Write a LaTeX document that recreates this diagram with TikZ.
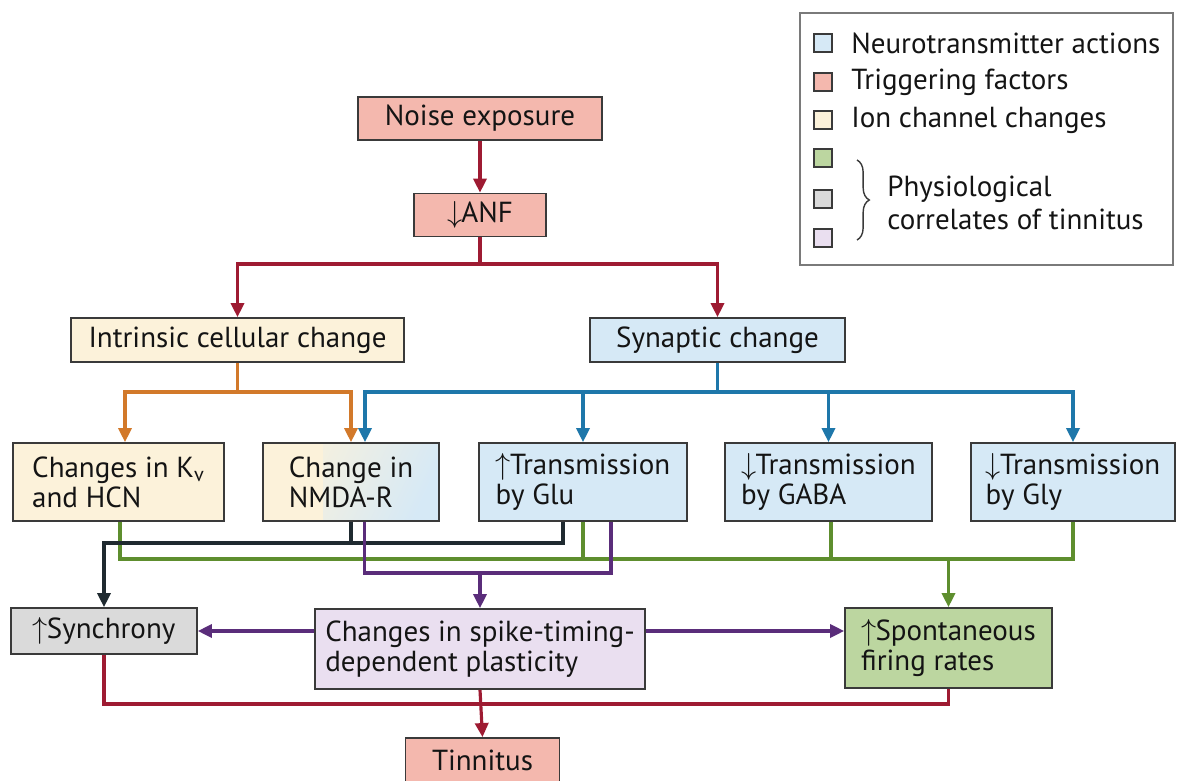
\documentclass[tikz,border=0pt]{standalone}
\usepackage{fontspec}
\setmainfont{PT Sans}
\usetikzlibrary{arrows.meta,decorations.pathreplacing}
\definecolor{bluefill}{HTML}{D6E9F6}
\definecolor{pinkfill}{HTML}{F4B8AE}
\definecolor{beigefill}{HTML}{FCF2DA}
\definecolor{greenfill}{HTML}{BCD6A0}
\definecolor{greyfill}{HTML}{DADADA}
\definecolor{purplefill}{HTML}{EADFF0}
\definecolor{boxborder}{HTML}{3A3A3A}
\definecolor{legendborder}{HTML}{7A7A7A}
\definecolor{redline}{HTML}{9E1B32}
\definecolor{orangeline}{HTML}{D2792A}
\definecolor{blueline}{HTML}{1E77AA}
\definecolor{blackline}{HTML}{1F2A30}
\definecolor{greenline}{HTML}{5E8E2E}
\definecolor{purpleline}{HTML}{5A2D7A}
\newcommand{\fsz}{\fontsize{16.5pt}{17pt}\selectfont}
\newcommand{\upa}{$\uparrow$\kern-0.5pt}
\newcommand{\dna}{$\downarrow$\kern-0.5pt}
\begin{document}
\begin{tikzpicture}[x=0.02cm,y=-0.02cm,
  box/.style={draw=boxborder, line width=1pt, inner sep=0pt, font=\fsz, align=left, text=black!92},
  sz/.style 2 args={minimum width=#1, minimum height=#2},
  tip/.style={-{Triangle[width=7.5pt,length=8pt]}},
  conn/.style={line width=1.8pt},
  rl/.style={conn, draw=redline, color=redline},
  ol/.style={conn, draw=orangeline, color=orangeline},
  bl/.style={conn, draw=blueline, color=blueline},
  kl/.style={conn, draw=blackline, color=blackline},
  gl/.style={conn, draw=greenline, color=greenline},
  pl/.style={conn, draw=purpleline, color=purpleline},
  legsq/.style={draw=boxborder, line width=0.7pt, minimum size=0.36cm, inner sep=0pt},
  legtxt/.style={anchor=west, font=\fsz, inner sep=0pt, text=black!92, align=left}
]
\useasboundingbox (0,0) rectangle (1177,781);

% legend
\node[draw=legendborder, line width=1pt, minimum width=7.46cm, minimum height=5.04cm, inner sep=0pt] (legend) at (986.5,139) {};
\node[legsq, fill=bluefill] (sq1) at (823,43) {};
\node[legsq, fill=pinkfill] (sq2) at (823,82) {};
\node[legsq, fill=beigefill] (sq3) at (823,120) {};
\node[legsq, fill=greenfill] (sq4) at (823,158) {};
\node[legsq, fill=greyfill] (sq5) at (823,199) {};
\node[legsq, fill=purplefill] (sq6) at (823,238) {};
\node[legtxt] (lt1) at (851,43) {Neurotransmitter actions};
\node[legtxt] (lt2) at (851,82) {Triggering factors};
\node[legtxt] (lt3) at (851,120) {Ion channel changes};
\node[legtxt] (lt4) at (887,203) {Physiological\\[2pt]correlates of tinnitus};
\coordinate (brtop) at (857,160);
\coordinate (brbot) at (857,240);
\draw[line width=0.8pt, boxborder, decorate, decoration={brace, amplitude=7pt}] (brtop) -- (brbot);

% boxes
\node[box, fill=pinkfill, sz={4.88cm}{0.86cm}] (noise) at (480,118.5) {Noise exposure};
\node[box, fill=pinkfill, sz={2.64cm}{0.86cm}] (anf) at (480,215) {\dna ANF};
\node[box, fill=beigefill, sz={6.66cm}{0.88cm}] (intr) at (237.5,340) {Intrinsic cellular change};
\node[box, fill=bluefill, sz={5.10cm}{0.88cm}] (syn) at (717.5,340) {Synaptic change};

\node[box, fill=beigefill, sz={4.22cm}{1.56cm}] (kv) at (118.5,482) {Changes in K\textsubscript{v}\\and HCN};
\node[box, fill=beigefill, sz={3.52cm}{1.56cm},
  path picture={\shade[left color=beigefill, right color=bluefill, shading angle=65]
    ([xshift=1.2cm]path picture bounding box.south west) rectangle (path picture bounding box.north east);
    \fill[beigefill] (path picture bounding box.south west) rectangle ([xshift=1.2cm]path picture bounding box.north west);}
  ] (nmda) at (351,482) {Change in\\NMDA-R};
\node[box, fill=bluefill, sz={4.16cm}{1.56cm}] (glu) at (583,482) {\upa Transmission\\by Glu};
\node[box, fill=bluefill, sz={4.14cm}{1.56cm}] (gaba) at (828.5,482) {\dna Transmission\\by GABA};
\node[box, fill=bluefill, sz={4.08cm}{1.56cm}] (gly) at (1073,482) {\dna Transmission\\by Gly};

\node[box, fill=greyfill, sz={3.72cm}{0.92cm}] (sync) at (104,631) {\upa Synchrony};
\node[box, fill=purplefill, sz={6.60cm}{1.60cm}] (stdp) at (480,649) {Changes in spike-timing-\\dependent plasticity};
\node[box, fill=greenfill, sz={4.14cm}{1.60cm}] (spont) at (948.5,648) {\upa Spontaneous\\firing rates};
\node[box, fill=pinkfill, sz={3.08cm}{0.88cm}] (tinn) at (482.5,760) {Tinnitus};

% bar levels
\coordinate (rbar) at (0,264);
\coordinate (obar) at (0,392);
\coordinate (kbar) at (0,543);
\coordinate (gbar) at (0,559);
\coordinate (pbar) at (0,573);
\coordinate (rbot) at (0,704);

% red top
\draw[rl, tip] (noise.south) -- (anf.north);
\draw[rl, tip] (anf.south) -- (anf.south |- rbar) -| (intr.north);
\draw[rl, tip] (anf.south |- rbar) -| (syn.north);

% orange
\draw[ol, tip] (intr.south) -- (intr.south |- obar) -| ([xshift=0.13cm]kv.north);
\draw[ol, tip] (intr.south |- obar) -| (nmda.north);

% blue
\draw[bl, tip] (syn.south) -- (syn.south |- obar) -| ([xshift=0.28cm]nmda.north);
\draw[bl, tip] (syn.south |- obar) -| (glu.north);
\draw[bl, tip] (syn.south |- obar) -| (gaba.north);
\draw[bl, tip] (syn.south |- obar) -| (gly.north);

% green
\draw[gl] ([xshift=0.03cm]kv.south) |- (gly.south |- gbar) -- (gly.south);
\draw[gl] (glu.south) -- (glu.south |- gbar);
\draw[gl] ([xshift=0.05cm]gaba.south) -- ([xshift=0.05cm]gaba.south |- gbar);
\draw[gl, tip] (spont.north |- gbar) -- (spont.north);

% black
\draw[kl] (nmda.south) -- (nmda.south |- kbar);
\draw[kl, tip] ([xshift=-0.40cm]glu.south) |- (sync.north |- kbar) -- (sync.north);

% purple
\draw[pl] ([xshift=0.27cm]nmda.south) |- ([xshift=0.56cm]glu.south |- pbar) -- ([xshift=0.56cm]glu.south);
\draw[pl, tip] (stdp.north |- pbar) -- (stdp.north);
\draw[pl, tip] (stdp.west |- sync.east) -- (sync.east);
\draw[pl, tip] (stdp.east |- sync.east) -- (spont.west |- sync.east);

% red bottom
\draw[rl] (sync.south) |- (spont.south |- rbot) -- (spont.south);
\draw[rl, tip] (stdp.south) -- (tinn.north);
\end{tikzpicture}
\end{document}
